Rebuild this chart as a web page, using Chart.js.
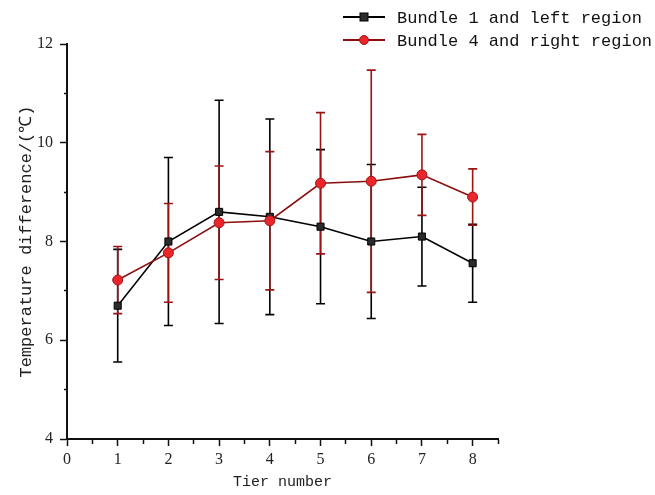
<!DOCTYPE html>
<html>
<head>
<meta charset="utf-8">
<script src="https://cdn.jsdelivr.net/npm/chart.js@4/dist/chart.umd.min.js"></script>
<style>
  html, body { margin: 0; padding: 0; background: #fff; }
  #wrap { width: 655px; height: 495px; position: relative; }
</style>
</head>
<body>
<div id="wrap"><canvas id="chart"></canvas></div>
<script>
// --- data ---
const tiers = [1, 2, 3, 4, 5, 6, 7, 8];
const bundle1Mean = [6.7, 8.0, 8.6, 8.5, 8.3, 8.0, 8.1, 7.56];
const bundle1Err  = [1.14, 1.7, 2.26, 1.98, 1.56, 1.56, 1.0, 0.79];
const bundle4Mean = [7.22, 7.77, 8.38, 8.42, 9.18, 9.22, 9.35, 8.9];
const bundle4Err  = [0.68, 1.0, 1.15, 1.4, 1.43, 2.25, 0.82, 0.57];
const seriesNames = ['Bundle 1 and left region', 'Bundle 4 and right region'];

const BLACK = '#000000';
const DARKRED = '#8b0d0d';
const RED = '#e8262b';

function toPoints(xs, ys, errs) {
  return xs.map((x, i) => ({ x: x, y: ys[i], err: errs[i] }));
}

// error bars drawn through the chart's own scales
const errorBars = {
  id: 'errorBars',
  beforeDatasetsDraw(chart) {
    const ctx = chart.ctx;
    const xs = chart.scales.x, ys = chart.scales.y;
    [0, 1].forEach(di => {
      const ds = chart.data.datasets[di];
      ctx.save();
      ctx.strokeStyle = ds.errColor;
      ctx.lineWidth = 1.6;
      ds.data.forEach(p => {
        const px = xs.getPixelForValue(p.x);
        const top = ys.getPixelForValue(p.y + p.err);
        const bot = ys.getPixelForValue(p.y - p.err);
        ctx.beginPath();
        ctx.moveTo(px, top); ctx.lineTo(px, bot);
        ctx.moveTo(px - 4.5, top); ctx.lineTo(px + 4.5, top);
        ctx.moveTo(px - 4.5, bot); ctx.lineTo(px + 4.5, bot);
        ctx.stroke();
      });
      ctx.restore();
    });
  }
};

// two-row legend at the top right
const sideLegend = {
  id: 'sideLegend',
  afterDraw(chart) {
    const ctx = chart.ctx;
    const rows = [17, 40];
    ctx.save();
    chart.data.datasets.forEach((ds, i) => {
      const y = rows[i];
      ctx.strokeStyle = ds.borderColor;
      ctx.lineWidth = 2;
      ctx.beginPath();
      ctx.moveTo(343, y); ctx.lineTo(385, y);
      ctx.stroke();
      ctx.fillStyle = ds.pointBackgroundColor;
      ctx.strokeStyle = ds.pointBorderColor;
      ctx.lineWidth = 1;
      if (ds.pointStyle === 'rect') {
        ctx.fillRect(360, y - 4, 8, 8);
        ctx.strokeRect(360, y - 4, 8, 8);
      } else {
        ctx.beginPath();
        ctx.arc(364, y, 4.5, 0, Math.PI * 2);
        ctx.fill(); ctx.stroke();
      }
      ctx.fillStyle = '#111';
      ctx.font = "17px 'Liberation Mono', monospace";
      ctx.textBaseline = 'middle';
      ctx.fillText(seriesNames[i], 397, y + 1);
    });
    ctx.restore();
  }
};

const isMinor = v => Math.abs(v - Math.round(v)) > 1e-6;

new Chart(document.getElementById('chart'), {
  type: 'scatter',
  data: {
    datasets: [
      {
        label: seriesNames[0],
        data: toPoints(tiers, bundle1Mean, bundle1Err),
        showLine: true,
        order: 1,
        borderColor: BLACK,
        borderWidth: 1.6,
        errColor: BLACK,
        pointStyle: 'rect',
        pointRadius: 5,
        pointBackgroundColor: '#2b2b2b',
        pointBorderColor: BLACK,
        pointBorderWidth: 1
      },
      {
        label: seriesNames[1],
        data: toPoints(tiers, bundle4Mean, bundle4Err),
        showLine: true,
        order: 0,
        borderColor: DARKRED,
        borderWidth: 1.6,
        errColor: '#9b1414',
        pointStyle: 'circle',
        pointRadius: 5,
        pointBackgroundColor: RED,
        pointBorderColor: '#a31515',
        pointBorderWidth: 1
      }
    ]
  },
  options: {
    responsive: true,
    maintainAspectRatio: false,
    animation: false,
    layout: { padding: { top: 44, right: 157, left: 0, bottom: 0 } },
    plugins: {
      legend: { display: false },
      tooltip: { enabled: false }
    },
    scales: {
      x: {
        type: 'linear',
        min: 0,
        max: 8.5,
        afterFit: s => { s.height = 56; },
        border: { display: true, color: '#111', width: 2 },
        grid: {
          drawOnChartArea: false,
          drawTicks: true,
          tickLength: 7,
          tickColor: '#111',
          tickWidth: 1.5,
          tickBorderDash: ctx => isMinor(ctx.tick.value) ? [4, 100] : []
        },
        ticks: {
          stepSize: 0.5,
          autoSkip: false,
          maxRotation: 0,
          padding: 4,
          color: '#222',
          font: { family: "'Liberation Serif', serif", size: 16 },
          callback: v => isMinor(v) ? '' : v
        },
        title: {
          display: true,
          text: 'Tier number',
          color: '#222',
          padding: { top: 0 },
          font: { family: "'Liberation Mono', monospace", size: 15 }
        }
      },
      y: {
        type: 'linear',
        min: 4,
        max: 12,
        afterFit: s => { s.width = 67; },
        border: { display: true, color: '#111', width: 2 },
        grid: {
          drawOnChartArea: false,
          drawTicks: true,
          tickLength: 7,
          tickColor: '#111',
          tickWidth: 1.5,
          tickBorderDash: ctx => isMinor(ctx.tick.value / 2) ? [0, 4, 3, 100] : []
        },
        ticks: {
          stepSize: 1,
          autoSkip: false,
          padding: 7,
          color: '#222',
          font: { family: "'Liberation Serif', serif", size: 16 },
          callback: v => (v % 2 === 0) ? v : ''
        },
        title: {
          display: true,
          text: 'Temperature difference/(℃)',
          color: '#222',
          padding: { top: 16, bottom: 0 },
          font: { family: "'Liberation Mono', monospace", size: 17 }
        }
      }
    }
  },
  plugins: [errorBars, sideLegend]
});
</script>
</body>
</html>
